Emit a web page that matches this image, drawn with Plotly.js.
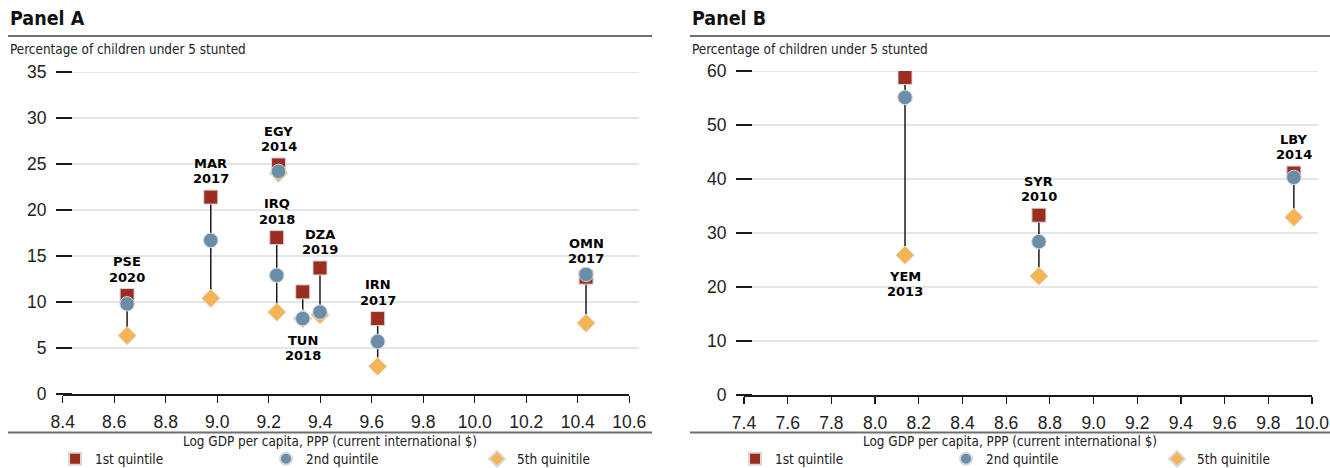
<!DOCTYPE html>
<html>
<head>
<meta charset="utf-8">
<script src="https://cdn.plot.ly/plotly-3.0.1.min.js"></script>
<style>
  html, body { margin: 0; padding: 0; background: #fff; }
  #chart { width: 1330px; height: 468px; }
</style>
</head>
<body>
<div id="chart"></div>
<script>
// ---------- DATA ----------
const countriesA = ['PSE', 'MAR', 'EGY', 'IRQ', 'TUN', 'DZA', 'IRN', 'OMN'];
const yearsA     = ['2020', '2017', '2014', '2018', '2018', '2019', '2017', '2017'];
const gdpA       = [8.65, 8.975, 9.238, 9.231, 9.332, 9.399, 9.623, 10.432];
const q1A        = [10.7, 21.4, 24.9, 17.0, 11.1, 13.7, 8.2, 12.7];
const q2A        = [9.8, 16.7, 24.2, 12.9, 8.2, 8.9, 5.7, 13.0];
const q5A        = [6.35, 10.4, 24.0, 8.9, 8.2, 8.6, 3.0, 7.7];

const countriesB = ['YEM', 'SYR', 'LBY'];
const yearsB     = ['2013', '2010', '2014'];
const gdpB       = [8.137, 8.75, 9.917];
const q1B        = [58.8, 33.3, 41.1];
const q2B        = [55.1, 28.4, 40.3];
const q5B        = [25.9, 22.0, 32.9];

const xTicksA = [8.4, 8.6, 8.8, 9.0, 9.2, 9.4, 9.6, 9.8, 10.0, 10.2, 10.4, 10.6];
const yTicksA = [0, 5, 10, 15, 20, 25, 30, 35];
const xTicksB = [7.4, 7.6, 7.8, 8.0, 8.2, 8.4, 8.6, 8.8, 9.0, 9.2, 9.4, 9.6, 9.8, 10.0];
const yTicksB = [0, 10, 20, 30, 40, 50, 60];

const seriesNames = ['1st quintile', '2nd quintile', '5th quinitile'];
const panelTitles = ['Panel A', 'Panel B'];
const yTitle = 'Percentage of children under 5 stunted';
const xTitle = 'Log GDP per capita, PPP (current international $)';

// label placement (style, not data)
const labelSideA = ['top', 'top', 'top', 'top', 'bottom', 'top', 'top', 'top'];
const labelSideB = ['bottom', 'top', 'top'];

// ---------- STYLE ----------
const W = 1330, H = 468;
const px = v => v / W;
const py = v => 1 - v / H;
const COND = "'Liberation Sans Narrow', 'DejaVu Sans Condensed', 'Arial Narrow', sans-serif";
const SANS = "'Liberation Sans', Arial, sans-serif";
const LABEL = "'DejaVu Sans', 'Liberation Sans', sans-serif";
const RED = '#9b2d21', BLUE = '#6a8ea8', ORANGE = '#f6b453';
const OUT = { color: '#d8d8d8', width: 1 };

function panelTraces(xs, a, b, c, xa, ya, legendId) {
  const lx = [], ly = [];
  xs.forEach((x, i) => {
    const vals = [a[i], b[i], c[i]];
    lx.push(x, x, null);
    ly.push(Math.min(...vals), Math.max(...vals), null);
  });
  return [
    { x: lx, y: ly, xaxis: xa, yaxis: ya, mode: 'lines', type: 'scatter',
      line: { color: '#1a1a1a', width: 1.5 }, showlegend: false, hoverinfo: 'skip' },
    { x: xs, y: c, xaxis: xa, yaxis: ya, mode: 'markers', type: 'scatter', name: seriesNames[2],
      marker: { symbol: 'diamond', size: 14, color: ORANGE, line: OUT },
      legend: legendId, legendrank: 3 },
    { x: xs, y: a, xaxis: xa, yaxis: ya, mode: 'markers', type: 'scatter', name: seriesNames[0],
      marker: { symbol: 'square', size: 14, color: RED, line: OUT },
      legend: legendId, legendrank: 1 },
    { x: xs, y: b, xaxis: xa, yaxis: ya, mode: 'markers', type: 'scatter', name: seriesNames[1],
      marker: { symbol: 'circle', size: 14.5, color: BLUE, line: OUT },
      legend: legendId, legendrank: 2 }
  ];
}

function labelAnnots(codes, years, xs, a, b, c, sides, xa, ya) {
  const out = [];
  const f = { family: LABEL, size: 13, color: '#000', weight: 'bold' };
  codes.forEach((code, i) => {
    const top = sides[i] === 'top';
    const yv = top ? a[i] : Math.min(a[i], b[i], c[i]);
    const s = top ? 1 : -1;
    const codeShift = top ? 33.7 : 21.5;
    const yearShift = top ? 18.5 : 36.7;
    out.push({ x: xs[i], y: yv, xref: xa, yref: ya, text: '<b>' + code + '</b>', showarrow: false,
      yshift: s * codeShift, font: f, xanchor: 'center', yanchor: 'middle' });
    out.push({ x: xs[i], y: yv, xref: xa, yref: ya, text: '<b>' + years[i] + '</b>', showarrow: false,
      yshift: s * yearShift, font: f, xanchor: 'center', yanchor: 'middle' });
  });
  return out;
}

const data = [
  ...panelTraces(gdpA, q1A, q2A, q5A, 'x', 'y', 'legend'),
  ...panelTraces(gdpB, q1B, q2B, q5B, 'x2', 'y2', 'legend2')
];

const tickFont = { family: SANS, size: 17.5, color: '#222' };

function xAxis(domain, ticks, anchor) {
  return {
    domain: domain, range: [ticks[0], ticks[ticks.length - 1]], anchor: anchor,
    tickmode: 'array', tickvals: ticks, ticktext: ticks.map(v => v.toFixed(1)),
    ticks: 'outside', ticklen: 7, tickwidth: 1.3, tickcolor: '#1a1a1a',
    showline: true, linecolor: '#1a1a1a', linewidth: 1.5,
    showgrid: false, zeroline: false, tickfont: tickFont, ticklabelstandoff: 4,
    fixedrange: true, automargin: false
  };
}
function xOverlay(over, domain, ticks, anchor) {
  return {
    overlaying: over, domain: domain, range: [ticks[0], ticks[ticks.length - 1]], anchor: anchor,
    tickmode: 'array', tickvals: ticks, ticks: 'inside', ticklen: 7, tickwidth: 1.3,
    tickcolor: '#1a1a1a', showticklabels: false, showgrid: false, showline: false,
    zeroline: false, fixedrange: true
  };
}
function yAxis(domain, ticks, pos) {
  return {
    domain: domain, range: [ticks[0], ticks[ticks.length - 1]], anchor: 'free', position: pos,
    tickmode: 'array', tickvals: ticks, ticktext: ticks.map(String),
    ticks: 'outside', ticklen: 16, tickwidth: 1.3, tickcolor: '#1a1a1a',
    showline: false, showgrid: false, zeroline: false, tickfont: tickFont,
    ticklabelstandoff: 6, fixedrange: true, automargin: false
  };
}

function gridShapes(ticks, yref, x0, x1) {
  return ticks.filter(v => v !== 0).map(v => ({
    type: 'line', xref: 'paper', yref: yref, x0: px(x0), x1: px(x1), y0: v, y1: v,
    layer: 'below', line: { color: '#dcdcdc', width: 1.5 }
  }));
}
function rule(x0, x1, y) {
  return { type: 'line', xref: 'paper', yref: 'paper', x0: px(x0), x1: px(x1), y0: py(y), y1: py(y),
    line: { color: '#6e6e6e', width: 2 } };
}

const domXA = [px(62.7), px(629.3)];
const domYA = [py(394), py(72)];
const domXB = [px(744), px(1312)];
const domYB = [py(395), py(71)];

const textAnn = (txt, x, y, font, xanchor) => ({
  text: txt, x: px(x), y: py(y), xref: 'paper', yref: 'paper', showarrow: false,
  xanchor: xanchor || 'left', yanchor: 'middle', font: font
});
const titleFont = { family: COND, size: 19.5, color: '#111', weight: 'bold' };
const subFont = { family: COND, size: 13.4, color: '#222' };

const legendBase = {
  orientation: 'h', yanchor: 'middle', xanchor: 'left', y: py(459),
  font: { family: COND, size: 13.5, color: '#222' },
  entrywidth: 166, entrywidthmode: 'pixels', itemsizing: 'constant',
  bgcolor: 'rgba(0,0,0,0)', traceorder: 'normal', itemclick: false, itemdoubleclick: false
};

const layout = {
  width: W, height: H,
  margin: { l: 0, r: 0, t: 0, b: 0, pad: 0, autoexpand: false },
  paper_bgcolor: '#fff', plot_bgcolor: 'rgba(0,0,0,0)',
  showlegend: true,
  xaxis: xAxis(domXA, xTicksA, 'y'),
  yaxis: yAxis(domYA, yTicksA, px(72)),
  xaxis2: xAxis(domXB, xTicksB, 'y2'),
  yaxis2: yAxis(domYB, yTicksB, px(752)),
  xaxis3: xOverlay('x', domXA, xTicksA, 'y'),
  xaxis4: xOverlay('x2', domXB, xTicksB, 'y2'),
  legend: Object.assign({}, legendBase, { x: px(55) }),
  legend2: Object.assign({}, legendBase, { x: px(735) }),
  shapes: [
    ...gridShapes(yTicksA, 'y', 72, 639),
    ...gridShapes(yTicksB, 'y2', 752, 1318),
    rule(8, 652, 36), rule(690, 1330, 36),
    rule(8, 652, 432.5), rule(690, 1330, 432.5)
  ],
  annotations: [
    textAnn(panelTitles[0], 8, 19, titleFont),
    textAnn(panelTitles[1], 690, 19, titleFont),
    textAnn(yTitle, 8, 50, subFont),
    textAnn(yTitle, 690, 50, subFont),
    textAnn(xTitle, 330, 441, subFont, 'center'),
    textAnn(xTitle, 1010, 441, subFont, 'center'),
    ...labelAnnots(countriesA, yearsA, gdpA, q1A, q2A, q5A, labelSideA, 'x', 'y'),
    ...labelAnnots(countriesB, yearsB, gdpB, q1B, q2B, q5B, labelSideB, 'x2', 'y2')
  ]
};

Plotly.newPlot('chart', data, layout, { displayModeBar: false, staticPlot: true });
</script>
</body>
</html>
